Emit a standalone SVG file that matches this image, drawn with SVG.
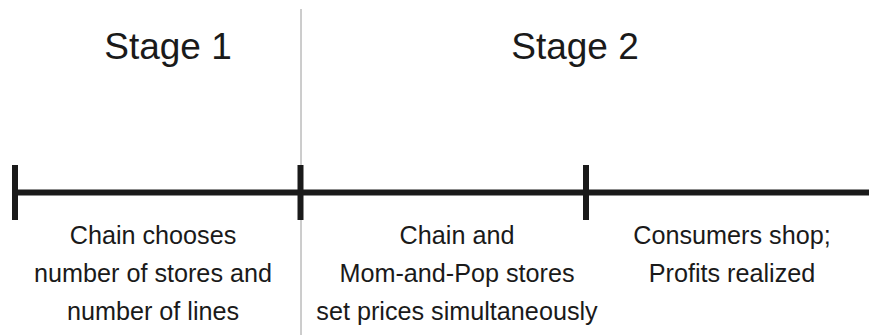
<svg xmlns="http://www.w3.org/2000/svg" width="869" height="335" viewBox="0 0 869 335">
<style>
.t{font-family:"Liberation Sans",Arial,sans-serif;fill:#1a1a1a;text-anchor:middle}
.h{font-size:37px}
.b{font-size:25.2px}
.ln{stroke:#1a1a1a;stroke-width:6;fill:none}
</style>
<rect width="869" height="335" fill="#fff"/>
<line x1="301" y1="9" x2="301" y2="335" stroke="#9a9a9a" stroke-width="1"/>
<g id="connectors">
<line class="ln" x1="12" y1="192.5" x2="869" y2="192.5"/>
<line class="ln" x1="15" y1="165" x2="15" y2="220"/>
<line class="ln" x1="300.5" y1="165" x2="300.5" y2="220"/>
<line class="ln" x1="586" y1="165" x2="586" y2="220"/>
</g>
<g id="stage1">
<text class="t h" x="168" y="59">Stage 1</text>
</g>
<g id="stage2">
<text class="t h" x="575" y="59">Stage 2</text>
</g>
<g id="step1">
<text class="t b" x="153" y="244">Chain chooses</text>
<text class="t b" x="153" y="282">number of stores and</text>
<text class="t b" x="153" y="320">number of lines</text>
</g>
<g id="step2">
<text class="t b" x="457" y="244">Chain and</text>
<text class="t b" x="457" y="282">Mom-and-Pop stores</text>
<text class="t b" x="457" y="320">set prices simultaneously</text>
</g>
<g id="step3">
<text class="t b" x="732" y="244">Consumers shop;</text>
<text class="t b" x="732" y="282">Profits realized</text>
</g>
</svg>
